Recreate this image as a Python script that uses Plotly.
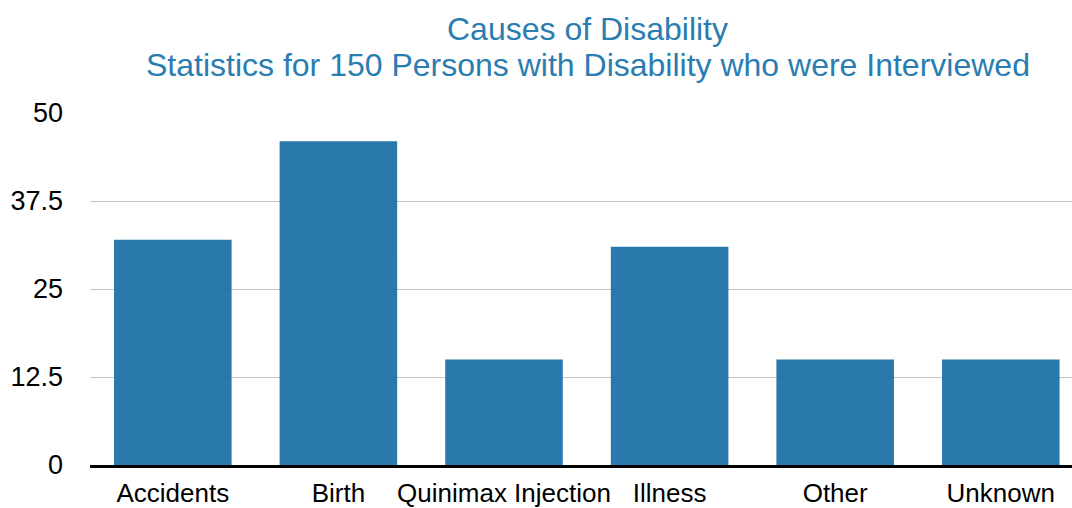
import plotly.graph_objects as go

# Causes of disability among interviewed persons
causes = ["Accidents", "Birth", "Quinimax Injection", "Illness", "Other", "Unknown"]
persons = [32, 46, 15, 31, 15, 15]

y_ticks = [0, 12.5, 25, 37.5, 50]
y_tick_labels = ["0", "12.5", "25", "37.5", "50"]

title_line_1 = "Causes of Disability"
title_line_2 = "Statistics for 150 Persons with Disability who were Interviewed"

font_family = "Liberation Sans, Helvetica, Arial, sans-serif"
title_color = "#2a7db0"
bar_color = "#176ea6"

fig = go.Figure(
    go.Bar(
        x=causes,
        y=persons,
        marker=dict(color=bar_color, line=dict(width=0)),
        opacity=0.92,
        hoverinfo="x+y",
    )
)

fig.update_layout(
    width=1072,
    height=508,
    margin=dict(l=90, r=0, t=113, b=39),
    paper_bgcolor="white",
    plot_bgcolor="white",
    bargap=0.29,
    showlegend=False,
    font=dict(family=font_family, size=26, color="#000000"),
)

# Two-line centred title placed above the plot area
for text, ypos in [(title_line_1, 1.238), (title_line_2, 1.135)]:
    fig.add_annotation(
        text=text,
        x=0.507,
        y=ypos,
        xref="paper",
        yref="paper",
        xanchor="center",
        yanchor="middle",
        showarrow=False,
        font=dict(family=font_family, size=32, color=title_color),
    )

fig.update_xaxes(
    range=[-0.5, 5.43],
    showgrid=False,
    showline=True,
    linecolor="#000000",
    linewidth=3,
    ticks="",
    ticklabelstandoff=3,
    tickfont=dict(size=26, color="#000000"),
    fixedrange=True,
)

fig.update_yaxes(
    range=[0, 50],
    tickvals=y_ticks,
    ticktext=y_tick_labels,
    showgrid=True,
    gridcolor="#c6c6c6",
    gridwidth=1,
    zeroline=False,
    showline=False,
    ticks="",
    ticklabelstandoff=26,
    tickfont=dict(size=27, color="#000000"),
    fixedrange=True,
)

fig.write_html("out.html")
